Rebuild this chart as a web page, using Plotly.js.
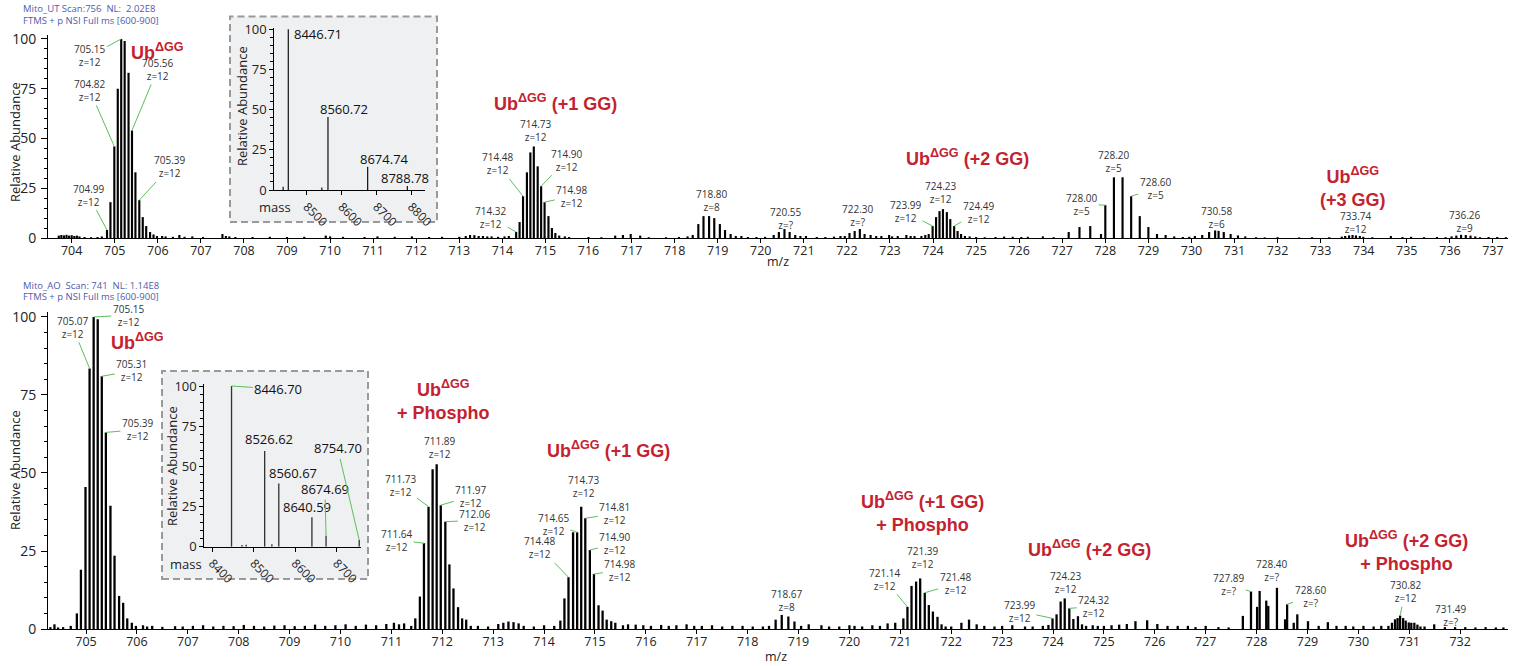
<!DOCTYPE html>
<html><head><meta charset="utf-8">
<script src="https://cdn.plot.ly/plotly-3.0.1.min.js"></script>
<style>html,body{margin:0;padding:0;background:#fff}</style>
</head><body><div id="chart" style="width:1518px;height:666px"></div>
<script>
// ---------------- DATA ----------------
// Top spectrum (Mito_UT): peak m/z and relative abundance (%)
const topMz = [
 704.82,704.90,704.99,705.07,705.15,705.23,705.32,705.40,705.48,705.57,705.65,705.73,705.82,705.90,705.98,
 714.32,714.40,714.48,714.57,714.65,714.73,714.82,714.90,714.98,715.07,715.15,715.23,715.32,
 718.42,718.55,718.67,718.80,718.92,719.05,719.17,719.30,719.42,
 720.30,720.42,720.55,720.67,720.80,720.92,
 721.95,722.06,722.18,722.30,722.41,722.55,722.68,722.80,722.98,723.18,723.38,723.57,723.73,
 723.82,723.90,723.99,724.07,724.15,724.23,724.32,724.40,724.49,724.57,724.65,724.74,
 727.15,727.40,727.65,727.90,728.00,728.20,728.40,728.60,728.80,729.00,729.20,729.40,
 730.08,730.25,730.41,730.55,730.63,730.75,730.91,731.08,731.25,
 733.49,733.57,733.66,733.74,733.82,733.91,733.99,
 736.04,736.15,736.26,736.37,736.48,736.59,736.70,
 703.70,703.76,703.82,703.88,703.94,704.00,704.06,704.12,704.18,704.30,704.45,704.60,704.70,
 706.10,706.18,706.35,706.50,706.62,706.80,707.05,707.50,707.58,707.66,707.80,708.20,708.60,709.00,709.40,709.90,710.00,710.30,710.80,711.10,711.50,711.90,712.30,712.60,
 713.00,713.15,713.25,713.35,713.45,713.55,713.65,713.75,713.90,714.05,714.15,715.45,715.55,716.00,716.30,716.62,716.80,716.98,717.20,717.40,717.80,718.10,718.30,
 719.55,719.70,719.90,720.10,721.05,721.30,721.50,721.70,721.85,723.05,723.48,724.85,725.00,725.20,725.45,725.65,725.85,726.05,726.20,726.55,726.80,
 729.60,729.80,729.95,731.50,731.70,732.00,732.50,732.80,733.20,734.20,734.63,734.90,735.10,735.40,735.70,735.90,736.90,737.10,737.30
];
const topInt = [
 4,18,46,75,100,99,83,54,33,19,10.5,6,3,1.8,1,
 3,8,21,33,43,46,36,26,18,11,5,2.5,1.2,
 1.5,7,11,11,10,7,4,2,1,
 1.5,3,4.5,3,1.5,1,
 1,2.5,3.5,4.5,2,1.5,1,1,1.5,1,1.5,1,1,
 1.5,2,6,10.5,13.5,14.5,13,9.5,6,3.5,2,1,
 3,5.5,6,2,16.5,30.5,30.5,21,11,5.5,2,1.5,
 1,1.5,3,3.8,3.6,3,2,1.3,0.8,
 0.7,1,1.3,1.5,1.3,1,0.6,
 0.8,1.2,1.6,1.5,1.2,0.8,0.4,
 1.2,1.5,1.3,1.6,1.2,1.4,1.0,1.2,0.8,0.5,0.4,0.5,0.8,
 1.0,0.8,0.6,1.5,0.6,0.8,0.5,2.0,1.0,0.8,0.5,0.5,0.6,0.5,0.6,1.2,0.8,0.6,0.5,0.8,0.6,0.8,0.5,0.6,
 0.6,1.0,1.5,1.4,1.0,1.0,0.8,0.8,0.6,0.8,1.0,0.8,0.5,0.5,0.4,1.2,1.5,2.0,1.2,0.4,0.4,0.5,0.8,
 1.0,0.5,0.5,0.6,1.0,0.5,0.5,0.7,1.0,0.8,1.0,0.8,0.5,0.4,0.5,0.7,0.6,0.5,0.6,0.8,0.4,
 0.8,0.5,0.6,0.4,0.3,0.4,0.3,0.4,0.4,0.4,1.0,0.5,0.6,0.4,0.5,0.4,0.5,0.5,0.4
];

// Bottom spectrum (Mito_AO)
const botMz = [
 704.82,704.90,704.99,705.07,705.15,705.23,705.31,705.39,705.48,705.56,705.65,705.73,705.81,705.90,705.98,
 711.39,711.47,711.56,711.64,711.73,711.81,711.89,711.97,712.06,712.14,712.22,712.31,712.39,712.47,712.56,
 714.32,714.40,714.48,714.57,714.65,714.73,714.81,714.90,714.98,715.07,715.15,715.23,715.32,715.40,
 718.42,718.55,718.67,718.80,718.92,719.05,
 721.06,721.14,721.22,721.31,721.39,721.48,721.56,721.64,721.73,721.81,721.89,
 723.91,723.99,724.07,724.15,724.23,724.32,724.40,724.49,724.57,724.65,
 727.73,727.89,728.01,728.06,728.19,728.23,728.40,728.56,728.60,728.73,728.80,729.01,729.22,729.40,729.57,
 730.59,730.66,730.72,730.77,730.82,730.88,730.93,730.99,731.04,731.10,731.16,731.22,731.49,
 704.30,704.38,704.45,704.55,704.70,706.12,706.20,706.30,706.50,706.75,706.90,707.10,707.30,707.50,707.70,707.90,
 708.10,708.30,708.50,708.70,708.90,709.10,709.30,709.50,709.70,709.90,710.10,710.30,710.50,710.70,710.90,711.05,711.15,711.25,
 712.70,712.90,713.10,713.20,713.30,713.40,713.50,713.60,713.80,714.00,714.20,715.55,715.65,715.80,715.95,716.10,716.30,716.45,716.60,716.80,716.95,
 717.10,717.30,717.50,717.70,717.90,718.10,718.30,719.20,719.45,719.60,719.80,720.00,720.10,720.25,720.45,720.60,720.75,720.90,
 722.00,722.20,722.35,722.50,722.65,722.85,723.00,723.20,723.45,723.60,723.80,724.78,724.88,725.00,725.15,725.30,725.45,725.62,725.85,726.05,726.25,726.45,726.65,726.80,
 727.00,727.25,727.45,729.75,729.90,730.10,730.30,730.45,731.30,731.70,731.90,732.10,732.30,732.50,732.70,732.85
];
const botInt = [
 5,19,45.5,83.5,100,99.3,81,63,39.5,23.5,10.6,8.4,3.4,2,1,
 1,3.4,10.4,27.5,39.2,51.2,52.8,39.7,34.4,20.7,13,7,3.4,3,1,
 2.7,9.8,16.6,31,31,39.2,35.5,25.3,17.6,7.6,5.9,3,2.5,2,
 1,3,4.5,4,2.4,1,
 3.4,7.1,13.8,15.2,16.2,11.6,7.7,5.6,3.9,1.5,0.8,
 1.3,3.4,4.7,8.8,9.8,6.6,3.2,4.1,1.5,1,
 4.2,12,7.1,12.2,9.1,7.4,13.2,3.1,7.9,2,4.7,2.5,1,2.2,1,
 1,2,3.1,3.5,4.3,3.5,2.7,2.1,2,2,1.4,0.8,1.5,
 0.6,1.5,0.5,0.6,1.0,1.2,0.8,1.0,0.7,0.9,0.8,1.0,1.2,0.8,1.0,0.9,
 1.3,1.0,0.8,1.1,1.2,0.9,1.0,1.4,1.0,1.2,1.5,1.0,1.4,1.2,1.6,2.0,1.5,1.8,
 1.0,0.8,1.6,2.0,2.4,2.2,1.8,1.0,0.8,1.2,1.0,1.2,1.5,1.4,1.2,1.0,1.3,1.0,1.2,1.5,1.0,
 1.0,1.2,0.8,1.0,1.0,0.8,0.8,1.5,1.2,0.8,0.8,1.2,1.0,0.8,1.2,1.0,1.8,2.0,
 0.8,2.0,3.0,1.5,1.0,0.8,1.0,1.2,0.8,0.8,1.0,1.2,1.0,1.0,1.2,1.4,1.6,2.5,2.8,1.6,1.0,1.0,1.0,0.6,
 1.0,0.6,0.5,1.0,0.8,1.0,0.8,1.0,0.8,0.6,0.6,0.6,0.5,0.6,0.5,0.5
];

// Deconvoluted inset spectra (mass, relative abundance)
const inset1Mass = [8432, 8446.71, 8543, 8560.72, 8674.74, 8788.78];
const inset1Int  = [2, 100, 1.5, 45.5, 14.5, 2.5];
const inset2Mass = [8446.70, 8472, 8482, 8526.62, 8544, 8560.67, 8640.59, 8674.69, 8754.70];
const inset2Int  = [100, 1, 1.2, 59.5, 1.5, 39.4, 18.3, 6.8, 4.1];

// Peak label values
const topLabelMz  = [705.15, 704.82, 705.56, 705.39, 704.99, 714.73, 714.48, 714.90, 714.98, 714.32, 718.80, 720.55, 722.30, 723.99, 724.23, 724.49, 728.00, 728.20, 728.60, 730.58, 733.74, 736.26];
const topLabelZ   = ['12','12','12','12','12','12','12','12','12','12','8','?','?','12','12','12','5','5','5','6','12','9'];
const topLabelTip = [705.15, 704.99, 705.40, 705.57, 704.82, null, 714.48, 714.90, 714.98, 714.32, null, null, null, 723.99, null, 724.49, 728.00, null, 728.60, null, null, null];
const botLabelMz  = [705.07, 705.15, 705.31, 705.39, 711.89, 711.73, 711.97, 712.06, 711.64, 714.73, 714.81, 714.65, 714.48, 714.90, 714.98, 718.67, 721.39, 721.14, 721.48, 724.23, 723.99, 724.32, 727.89, 728.40, 728.60, 730.82, 731.49];
const botLabelZ   = ['12','12','12','12','12','12','12','12','12','12','12','12','12','12','12','8','12','12','12','12','12','12','?','?','?','12','?'];
const botLabelTip = [705.07, 705.15, 705.31, 705.39, null, 711.73, 711.97, 712.06, 711.64, null, 714.81, 714.65, 714.48, 714.90, 714.98, null, null, 721.14, 721.48, null, 723.99, 724.32, 727.89, null, 728.60, 730.82, 731.49];
const inset1Labels = [8446.71, 8560.72, 8674.74, 8788.78];
const inset2Labels = [8446.70, 8526.62, 8560.67, 8640.59, 8674.69, 8754.70];
const inset2Tip    = [8446.70, null, null, null, 8674.69, 8754.70];

// Species labels
const topSpecies = ['Ub<sup>ΔGG</sup>', 'Ub<sup>ΔGG</sup> (+1 GG)', 'Ub<sup>ΔGG</sup> (+2 GG)', 'Ub<sup>ΔGG</sup><br>(+3 GG)'];
const botSpecies = ['Ub<sup>ΔGG</sup>', 'Ub<sup>ΔGG</sup><br>+ Phospho', 'Ub<sup>ΔGG</sup> (+1 GG)', 'Ub<sup>ΔGG</sup> (+1 GG)<br>+ Phospho', 'Ub<sup>ΔGG</sup> (+2 GG)', 'Ub<sup>ΔGG</sup> (+2 GG)<br>+ Phospho'];

// ---------------- PLACEMENT (layout) ----------------
const topLabelPlace = [[704.42,91.5],[704.42,74.2],[705.99,84.7],[706.28,35.7],[704.39,21.5],[714.76,53.8],[713.89,37.2],[715.48,39.1],[715.61,21],[713.73,10.3],[718.86,18.7],[720.58,9.6],[722.24,11.4],[723.36,13.1],[724.18,22.9],[725.05,13],[727.45,16.9],[728.20,38.6],[729.16,24.9],[730.58,10.5],[733.80,7.9],[736.34,8.4]];
const botLabelPlace = [[704.74,96.7],[705.83,100.6],[705.90,82.7],[706.01,63.9],[711.94,58.2],[711.17,46],[712.56,42.5],[712.64,34.8],[711.10,28.5],[714.77,45.8],[715.39,36.9],[714.18,33.6],[713.92,26.0],[715.39,27.3],[715.49,18.9],[718.77,9],[721.44,22.9],[720.69,15.9],[722.08,14.5],[724.24,15],[723.34,5.7],[724.80,7.3],[727.45,14.2],[728.29,18.7],[729.05,10.5],[730.92,12],[731.81,4.4]];
const topSpeciesPlace = [[705.99,93.5],[715.23,68.2],[724.79,40.6],[733.74,25.6]];
const botSpeciesPlace = [[706.01,92.1],[712.03,73.3],[715.26,57.4],[721.44,37.6],[724.71,25.9],[730.95,24.9]];
const inset1Place = [[8456,97,'left'],[8606.8,50.2,'center'],[8721.7,19.3,'center'],[8782,7.3,'center']];
const inset2Place = [[8559.5,98.1],[8537,67],[8595.7,46],[8628,24.9],[8672,35.9],[8702.8,61.2]];

// ---------------- BUILD ----------------
const W = 1518, H = 666;
const GREEN = '#5cbf5c', RED = '#c4222f', HEAD = '#4f5bab';
const labelFont = {family:'Open Sans, sans-serif', size:10, color:'#333'};
const redFont = {family:'Liberation Sans, Arial, sans-serif', size:18, color:RED, weight:700};
const px2x = p => p / W, px2y = p => 1 - p / H;

function intensityAt(mzs, ints, m) {
  let bi = 0, bd = Infinity;
  mzs.forEach((v, i) => { const d = Math.abs(v - m); if (d < bd) { bd = d; bi = i; } });
  return ints[bi];
}
function makeLabels(vals, texts, tips, place, mzs, ints, xr, yr, font) {
  return vals.map((m, i) => {
    const text = texts[i];
    const tx = place[i][0], ty = place[i][1];
    if (tips[i] == null) return {xref:xr, yref:yr, x:tx, y:ty, text, showarrow:false, font, align:'center', xanchor: place[i][2] || 'center'};
    return {xref:xr, yref:yr, x:tips[i], y:intensityAt(mzs, ints, tips[i]), axref:xr, ayref:yr, ax:tx, ay:ty,
            text, showarrow:true, arrowhead:0, arrowwidth:1, arrowcolor:GREEN, standoff:0, startstandoff:0, font, align:'center'};
  });
}

const annotations = [];
annotations.push(...makeLabels(topLabelMz, topLabelMz.map((m,i)=>m.toFixed(2)+'<br>z='+topLabelZ[i]), topLabelTip, topLabelPlace, topMz, topInt, 'x', 'y', labelFont));
annotations.push(...makeLabels(botLabelMz, botLabelMz.map((m,i)=>m.toFixed(2)+'<br>z='+botLabelZ[i]), botLabelTip, botLabelPlace, botMz, botInt, 'x2', 'y2', labelFont));
const insetFont = {family:'Open Sans, sans-serif', size:13, color:'#111'};
annotations.push(...makeLabels(inset1Labels, inset1Labels.map(m=>m.toFixed(2)), inset1Labels.map(()=>null), inset1Place, inset1Mass, inset1Int, 'x3', 'y3', insetFont));
annotations.push(...makeLabels(inset2Labels, inset2Labels.map(m=>m.toFixed(2)), inset2Tip, inset2Place, inset2Mass, inset2Int, 'x4', 'y4', insetFont));
topSpecies.forEach((t,i)=>annotations.push({xref:'x', yref:'y', x:topSpeciesPlace[i][0], y:topSpeciesPlace[i][1], text:t, showarrow:false, font:redFont, align:'center'}));
botSpecies.forEach((t,i)=>annotations.push({xref:'x2', yref:'y2', x:botSpeciesPlace[i][0], y:botSpeciesPlace[i][1], text:t, showarrow:false, font:redFont, align:'center'}));

// headers and titles
const headFont = {family:'Open Sans, sans-serif', size:9.5, color:HEAD};
const paperText = (t, x, y, font, extra) => Object.assign({xref:'paper', yref:'paper', x:px2x(x), y:px2y(y), text:t, showarrow:false, font, xanchor:'left', yanchor:'middle'}, extra||{});
annotations.push(paperText('Mito_UT Scan:756\u00a0\u00a0NL:\u00a0\u00a02.02E8', 21, 9, headFont));
annotations.push(paperText('FTMS + p NSI Full ms [600-900]', 21, 20.5, headFont));
annotations.push(paperText('Mito_AO\u00a0\u00a0Scan: 741\u00a0\u00a0NL: 1.14E8', 21, 285, headFont));
annotations.push(paperText('FTMS + p NSI Full ms [600-900]', 21, 296.5, headFont));
const titleFont = {family:'Open Sans, sans-serif', size:13, color:'#222'};
annotations.push(paperText('Relative Abundance', 15, 142, titleFont, {textangle:-90, xanchor:'center'}));
annotations.push(paperText('Relative Abundance', 15, 470, titleFont, {textangle:-90, xanchor:'center'}));
annotations.push(paperText('Relative Abundance', 242, 106, titleFont, {textangle:-90, xanchor:'center'}));
annotations.push(paperText('Relative Abundance', 172, 466, titleFont, {textangle:-90, xanchor:'center'}));
annotations.push(paperText('mass', 275, 207, titleFont, {xanchor:'center'}));
annotations.push(paperText('mass', 186, 564, titleFont, {xanchor:'center'}));
annotations.push(paperText('m/z', 778, 261, {family:'Open Sans, sans-serif', size:12.5, color:'#222'}, {xanchor:'center'}));
annotations.push(paperText('m/z', 776, 656, {family:'Open Sans, sans-serif', size:12.5, color:'#222'}, {xanchor:'center'}));

const barBase = {type:'bar', marker:{color:'#000', line:{width:0}}, hoverinfo:'skip', showlegend:false};
const traces = [
  Object.assign({}, barBase, {x:topMz, y:topInt, xaxis:'x', yaxis:'y', width:0.05}),
  Object.assign({}, barBase, {x:botMz, y:botInt, xaxis:'x2', yaxis:'y2', width:0.045}),
  Object.assign({}, barBase, {x:inset1Mass, y:inset1Int, xaxis:'x3', yaxis:'y3', width:3.5, marker:{color:'#111', line:{width:0}}}),
  Object.assign({}, barBase, {x:inset2Mass, y:inset2Int, xaxis:'x4', yaxis:'y4', width:3.2, marker:{color:'#333', line:{width:0}}})
];

const tickFont = {family:'Open Sans, sans-serif', size:12.5, color:'#222'};
const yTickFont = {family:'Open Sans, sans-serif', size:14, color:'#222'};
const xMain = (dom, rng, anchor) => ({domain:dom, range:rng, anchor, showline:true, linecolor:'#000', linewidth:1, ticks:'outside', ticklen:4, tickcolor:'#000', tickwidth:1,
  tick0:0, dtick:1, showgrid:false, zeroline:false, tickfont:tickFont, ticklabelstandoff:-3, fixedrange:true});
const yAx = (dom, rng, anchor, font, tl, ts) => ({domain:dom, range:rng, anchor, showline:true, linecolor:'#000', linewidth:1, ticks:'outside', ticklen:tl, tickcolor:'#000',
  tickvals:[0,25,50,75,100], showgrid:false, zeroline:false, tickfont:font, ticklabelstandoff:ts,
  minor:{dtick:5, tick0:0, ticks:'outside', ticklen:3, tickcolor:'#000'}});

const layout = {
  width:W, height:H, margin:{l:0, r:0, t:0, b:0}, paper_bgcolor:'#fff', plot_bgcolor:'rgba(0,0,0,0)',
  barmode:'overlay', showlegend:false,
  xaxis: xMain([48/W, 1508/W], [703.45, 737.35], 'y'),
  yaxis: yAx([1-238/H, 1-35/H], [0, 102], 'x', yTickFont, 6, 2),
  xaxis2: xMain([48/W, 1508/W], [704.253, 732.94], 'y2'),
  yaxis2: yAx([1-629/H, 1-312.3/H], [0, 101.5], 'x2', yTickFont, 6, 2),
  xaxis3: {domain:[274.3/W, 425/W], range:[8406.5, 8839.5], anchor:'y3', showline:true, linecolor:'#000', ticks:'outside', ticklen:4, tickcolor:'#000',
           tickvals:[8500,8600,8700,8800], tickangle:45, tickfont:{family:'Open Sans, sans-serif', size:12, color:'#222'}, showgrid:false, zeroline:false},
  yaxis3: yAx([1-190/H, 1-27.7/H], [0, 101], 'x3', {family:'Open Sans, sans-serif', size:13, color:'#222'}, 4, 0),
  xaxis4: {domain:[204.3/W, 361/W], range:[8381, 8759], anchor:'y4', showline:true, linecolor:'#000', ticks:'outside', ticklen:4, tickcolor:'#000',
           tickvals:[8400,8500,8600,8700], tickangle:45, tickfont:{family:'Open Sans, sans-serif', size:12, color:'#222'}, showgrid:false, zeroline:false},
  yaxis4: yAx([1-546.7/H, 1-384.4/H], [0, 101], 'x4', {family:'Open Sans, sans-serif', size:13, color:'#222'}, 4, 0),
  shapes: [
    {type:'rect', xref:'paper', yref:'paper', x0:230/W, x1:437/W, y0:1-222/H, y1:1-16.5/H, layer:'below', fillcolor:'#eff0f2', line:{color:'#9a9a9a', width:2, dash:'7px,4px'}},
    {type:'rect', xref:'paper', yref:'paper', x0:162/W, x1:368/W, y0:1-579/H, y1:1-371/H, layer:'below', fillcolor:'#eff0f2', line:{color:'#9a9a9a', width:2, dash:'7px,4px'}}
  ],
  annotations
};

Plotly.newPlot('chart', traces, layout, {staticPlot:true, displayModeBar:false});
</script>
</body></html>
